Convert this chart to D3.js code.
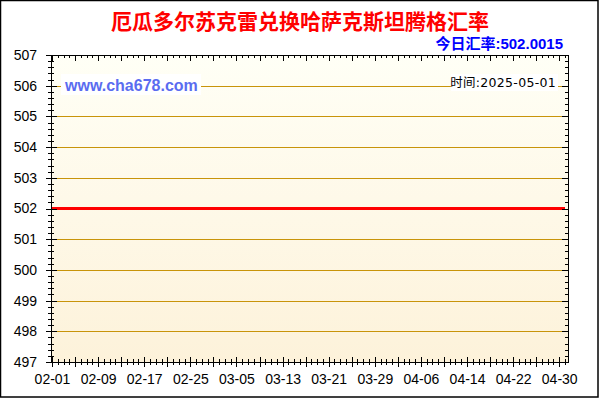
<!DOCTYPE html>
<html>
<head>
<meta charset="utf-8">
<script src="https://cdn.jsdelivr.net/npm/d3@7"></script>
<style>
  body { margin: 0; background: #fff; }
  svg { display: block; }
  .ylab, .xlab { font-family: "Liberation Sans", Arial, sans-serif; font-size: 14px; fill: #000; }
</style>
</head>
<body>
<div id="chart"></div>
<script>
// data
const title = "厄瓜多尔苏克雷兑换哈萨克斯坦腾格汇率";
const todayRate = "今日汇率:502.0015";
const timeLabel = "时间:2025-05-01";
const siteLabel = "www.cha678.com";

const rateDates = ["2025-02-01", "2025-02-09", "2025-02-17", "2025-02-25", "2025-03-05", "2025-03-13",
  "2025-03-21", "2025-03-29", "2025-04-06", "2025-04-14", "2025-04-22", "2025-04-30", "2025-05-01"];
const rateValues = [502.0015, 502.0015, 502.0015, 502.0015, 502.0015, 502.0015,
  502.0015, 502.0015, 502.0015, 502.0015, 502.0015, 502.0015, 502.0015];

const xTickLabels = ["02-01", "02-09", "02-17", "02-25", "03-05", "03-13",
  "03-21", "03-29", "04-06", "04-14", "04-22", "04-30"];
const yTickValues = [497, 498, 499, 500, 501, 502, 503, 504, 505, 506, 507];

const WIDTH = 600;
const HEIGHT = 400;
const PLOT = { left: 51, right: 568, top: 55, bottom: 362 };

const parse = d3.timeParse("%Y-%m-%d");
const points = rateDates.map((d, i) => ({ date: parse(d), value: rateValues[i] }));

const SVG = d3.select("#chart").append("svg")
  .attr("width", WIDTH)
  .attr("height", HEIGHT);

const x = d3.scaleTime()
  .domain([parse("2025-02-01"), parse("2025-05-01")])
  .range([52, 565]);

const y = d3.scaleLinear()
  .domain([497, 507])
  .range([PLOT.bottom, PLOT.top]);

// background gradient of the plot
const grad = SVG.append("defs").append("linearGradient")
  .attr("id", "bg").attr("x1", 0).attr("y1", 0).attr("x2", 0).attr("y2", 1);
grad.append("stop").attr("offset", "0%").attr("stop-color", "#fffff6");
grad.append("stop").attr("offset", "100%").attr("stop-color", "#fdf2da");

SVG.append("rect")
  .attr("x", PLOT.left).attr("y", PLOT.top)
  .attr("width", PLOT.right - PLOT.left).attr("height", PLOT.bottom - PLOT.top)
  .attr("fill", "url(#bg)");

// horizontal grid lines
SVG.append("g")
  .selectAll("line")
  .data(yTickValues.slice(1, -1))
  .join("line")
  .attr("x1", PLOT.left).attr("x2", PLOT.right)
  .attr("y1", d => Math.round(y(d)) + 0.5).attr("y2", d => Math.round(y(d)) + 0.5)
  .attr("stroke", "#c8940a")
  .attr("stroke-width", 1);

// watermark boxes
const site = SVG.append("g");
site.append("rect").attr("x", 61).attr("y", 74).attr("width", 140).attr("height", 21).attr("fill", "#fff");
site.append("text")
  .attr("x", 65).attr("y", 91)
  .attr("font-family", "Liberation Sans, Arial, sans-serif")
  .attr("font-size", 16).attr("font-weight", "bold")
  .attr("fill", "#5a6cf0")
  .text(siteLabel);

const tm = SVG.append("g");
tm.append("rect").attr("x", 451).attr("y", 74).attr("width", 107).attr("height", 17).attr("fill", "#fff");
tm.append("text")
  .attr("x", 556).attr("y", 87)
  .attr("text-anchor", "end")
  .attr("font-family", "DejaVu Sans, Noto Sans CJK SC, sans-serif")
  .attr("font-size", 12.5)
  .attr("letter-spacing", 0.3)
  .attr("fill", "#000")
  .text(timeLabel);

// rate line
const line = d3.line()
  .x(d => x(d.date))
  .y(d => y(d.value));

SVG.append("path")
  .datum(points)
  .attr("d", line)
  .attr("fill", "none")
  .attr("stroke", "#ff0000")
  .attr("stroke-width", 3);

// frame
SVG.append("rect")
  .attr("x", PLOT.left + 0.5).attr("y", PLOT.top + 0.5)
  .attr("width", PLOT.right - PLOT.left).attr("height", PLOT.bottom - PLOT.top)
  .attr("fill", "none").attr("stroke", "#000").attr("stroke-width", 1);

// y ticks (minor every 0.2, major every 1)
const yMinor = d3.range(497, 507.001, 0.2);
const tickG = SVG.append("g").attr("stroke", "#000").attr("stroke-width", 1);

tickG.selectAll(".ym").data(yMinor).join("line")
  .attr("x1", PLOT.left - 3).attr("x2", PLOT.left + 3)
  .attr("y1", d => Math.round(y(d)) + 0.5).attr("y2", d => Math.round(y(d)) + 0.5);
tickG.selectAll(".yM").data(yTickValues).join("line")
  .attr("x1", PLOT.left - 5).attr("x2", PLOT.left + 6)
  .attr("y1", d => Math.round(y(d)) + 0.5).attr("y2", d => Math.round(y(d)) + 0.5);
tickG.selectAll(".yr").data(yMinor).join("line")
  .attr("x1", PLOT.right - 3).attr("x2", PLOT.right)
  .attr("y1", d => Math.round(y(d)) + 0.5).attr("y2", d => Math.round(y(d)) + 0.5);
tickG.selectAll(".yR").data(yTickValues).join("line")
  .attr("x1", PLOT.right - 6).attr("x2", PLOT.right)
  .attr("y1", d => Math.round(y(d)) + 0.5).attr("y2", d => Math.round(y(d)) + 0.5);

// x ticks (minor every day, major every 4 days)
const xMinor = d3.timeDay.range(parse("2025-02-01"), parse("2025-05-02"));
const xMajor = xMinor.filter((d, i) => i % 4 === 0);
tickG.selectAll(".xb").data(xMinor).join("line")
  .attr("x1", d => Math.round(x(d)) + 0.5).attr("x2", d => Math.round(x(d)) + 0.5)
  .attr("y1", PLOT.bottom - 3).attr("y2", PLOT.bottom + 3);
tickG.selectAll(".xB").data(xMajor).join("line")
  .attr("x1", d => Math.round(x(d)) + 0.5).attr("x2", d => Math.round(x(d)) + 0.5)
  .attr("y1", PLOT.bottom - 5).attr("y2", PLOT.bottom + 5);
tickG.selectAll(".xt").data(xMinor).join("line")
  .attr("x1", d => Math.round(x(d)) + 0.5).attr("x2", d => Math.round(x(d)) + 0.5)
  .attr("y1", PLOT.top).attr("y2", PLOT.top + 3);
tickG.selectAll(".xT").data(xMajor).join("line")
  .attr("x1", d => Math.round(x(d)) + 0.5).attr("x2", d => Math.round(x(d)) + 0.5)
  .attr("y1", PLOT.top).attr("y2", PLOT.top + 6);

// axis labels through d3 axes, with their own lines hidden
const yAxis = SVG.append("g")
  .attr("transform", `translate(${PLOT.left},0)`)
  .call(d3.axisLeft(y).tickValues(yTickValues).tickSize(0).tickPadding(14).tickFormat(d3.format("d")));
yAxis.select(".domain").remove();
yAxis.selectAll("text").attr("class", "ylab").attr("font-size", null).attr("font-family", null);

const xTickDates = xTickLabels.map(l => parse("2025-" + l));
const xAxis = SVG.append("g")
  .attr("transform", `translate(0,${PLOT.bottom})`)
  .call(d3.axisBottom(x).tickValues(xTickDates).tickSize(0).tickPadding(12).tickFormat(d3.timeFormat("%m-%d")));
xAxis.select(".domain").remove();
xAxis.selectAll("text").attr("class", "xlab").attr("font-size", null).attr("font-family", null);

// titles
SVG.append("text")
  .attr("x", 300).attr("y", 29)
  .attr("text-anchor", "middle")
  .attr("font-family", "Noto Sans CJK SC, sans-serif")
  .attr("font-size", 21).attr("font-weight", "bold")
  .attr("fill", "#ff0000")
  .text(title);

SVG.append("text")
  .attr("x", 563).attr("y", 49)
  .attr("text-anchor", "end")
  .attr("font-family", "Liberation Sans, Noto Sans CJK SC, sans-serif")
  .attr("font-size", 15).attr("font-weight", "bold")
  .attr("fill", "#0000ff")
  .text(todayRate);

// outer border
SVG.append("rect")
  .attr("x", 0.5).attr("y", 0.5)
  .attr("width", 597.5).attr("height", 396.5)
  .attr("fill", "none").attr("stroke", "#000").attr("stroke-width", 1.5);
</script>
</body>
</html>
